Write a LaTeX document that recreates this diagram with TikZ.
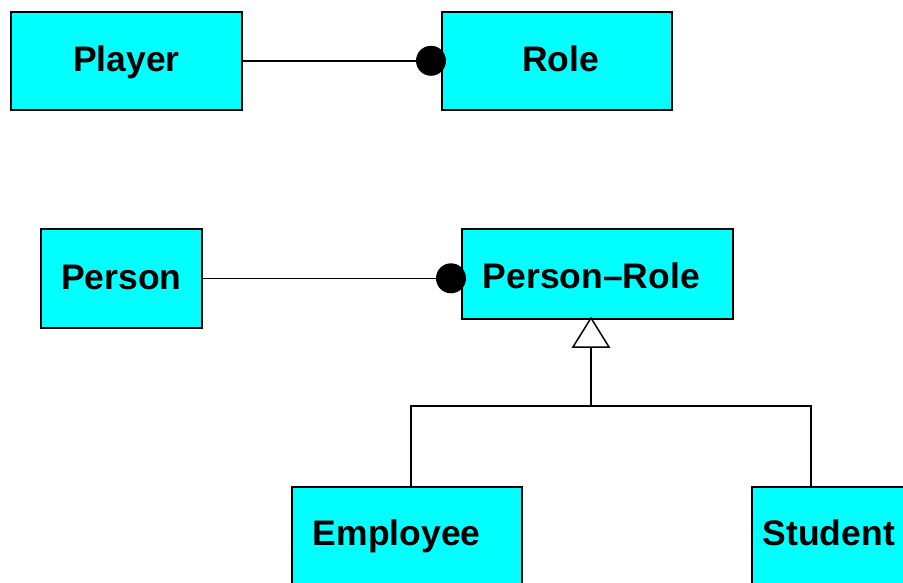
\documentclass[tikz,border=0pt]{standalone}
\usepackage{fontspec}
\setmainfont{Liberation Sans}
\definecolor{aqua}{RGB}{0,255,255}
\begin{document}
\begin{tikzpicture}[x=1pt,y=-1pt,
  cls/.style={draw=black, line width=1.6pt, fill=aqua, anchor=north west,
    inner sep=0pt, text height=21pt, text depth=0pt,
    font=\fontsize{35.5}{40}\selectfont\bfseries},
  conn/.style={draw=black, line width=1.5pt},
  dot/.style={fill=black}]
\useasboundingbox (0,0) rectangle (903,583);
\clip (0,0) rectangle (903,583);

% classes
\node[cls, minimum width=231pt, minimum height=98pt] (player) at (10,11) {Player};
\node[cls, minimum width=230pt, minimum height=98pt, text width=230pt, align=center] (role) at (441,11) {\hspace*{8pt}Role};
\node[cls, minimum width=161pt, minimum height=99pt, text height=23pt] (person) at (40,228) {Person};
\node[cls, minimum width=271pt, minimum height=90pt, text width=271pt, align=left, text height=30pt] (prole) at (461,228) {\hspace*{21pt}Person--Role};
\node[cls, minimum width=230pt, minimum height=98pt, text width=230pt, align=left, text height=20pt] (emp) at (291,486) {\hspace*{21pt}Employee};
\node[cls, minimum width=160pt, minimum height=98pt, text width=160pt, align=left, text height=20pt] (stu) at (751,486) {\hspace*{11pt}Student};

% associations ending in a filled dot
\draw[conn] (player.east) -- (role.west);
\fill[dot] ([xshift=-10pt]role.west) circle (15pt);
\draw[conn] (person.east) -- (person.east -| prole.west);
\fill[dot] ([xshift=-10pt]person.east -| prole.west) circle (15pt);

% generalisation tree
\coordinate (apex) at (591,318);
\coordinate (base) at (591,347);
\coordinate (fork) at (591,406);
\coordinate (empTop) at (411,486);
\coordinate (stuTop) at (811,486);
\draw[conn] (base) -- (fork);
\draw[conn] (empTop) |- (fork) -| (stuTop);
\draw[conn, fill=white, line join=miter] (apex) -- (573,347) -- (609,347) -- cycle;
\end{tikzpicture}
\end{document}
